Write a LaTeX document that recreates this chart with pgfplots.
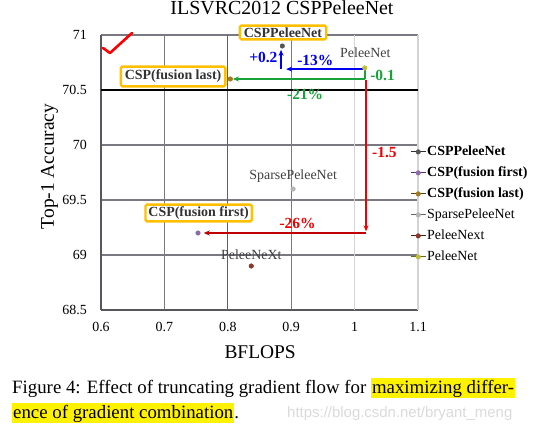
\documentclass[border=0pt]{standalone}
\usepackage{fontspec}
\setmainfont{Liberation Serif}
\newfontfamily\wmfont{Liberation Sans}
\usepackage{pgfplots}
\pgfplotsset{compat=1.18}
\usetikzlibrary{arrows.meta}
\definecolor{cCSP}{HTML}{555555}
\definecolor{cFirst}{HTML}{8E6BAE}
\definecolor{cLast}{HTML}{A07A1C}
\definecolor{cSparse}{HTML}{B5B5B5}
\definecolor{cNext}{HTML}{8B3626}
\definecolor{cPelee}{HTML}{BDBD3A}
\definecolor{cBox}{HTML}{FFC000}
\definecolor{cBlue}{HTML}{0000F0}
\definecolor{cGreen}{HTML}{17A33A}
\definecolor{cRed}{HTML}{F00000}
\definecolor{cDRed}{HTML}{C00000}
\definecolor{cGrid}{RGB}{122,120,128}
\definecolor{cGridD}{RGB}{96,94,102}
\definecolor{cGridL}{RGB}{212,212,212}
\definecolor{cAxis}{RGB}{88,86,94}
\newcommand\hl[1]{{\setlength{\fboxsep}{1bp}\colorbox{yellow}{\rule[-4bp]{0pt}{18.5bp}#1}}}
\begin{document}
\begin{tikzpicture}[x=1bp,y=1bp]
\fill[white] (0,0) rectangle (560,426);
\path[use as bounding box] (0,0) rectangle (560,426);
\begin{axis}[
  at={(101bp,116bp)}, anchor=south west,
  scale only axis, width=317bp, height=275bp,
  xmin=0.6, xmax=1.1, ymin=68.5, ymax=71,
  xtick={0.6,0.7,0.8,0.9,1,1.1},
  ytick={68.5,69,69.5,70,70.5,71},
  axis x line*=bottom, axis y line*=left,
  axis line style={draw=cAxis, line width=1.5bp, -},
  xmajorgrids=true, ymajorgrids=true,
  major grid style={draw=cGrid, line width=1.1bp},
  major tick length=0pt,
  clip=false,
  /pgf/number format/assume math mode=true,
  tick label style={font=\fontsize{14}{16}\selectfont},
  xticklabel style={inner sep=0pt, anchor=north, yshift=-12bp},
  yticklabel style={inner sep=0pt, anchor=east, xshift=-14bp},
  title={ILSVRC2012 CSPPeleeNet},
  title style={at={(axis description cs:0.571,1.076)}, anchor=center, inner sep=0pt, font=\fontsize{20}{24}\selectfont},
  xlabel={BFLOPS},
  xlabel style={at={(axis description cs:0.502,-0.153)}, anchor=center, inner sep=0pt, font=\fontsize{19.5}{22}\selectfont},
  ylabel={Top-1 Accuracy},
  ylabel style={at={(axis description cs:-0.162,0.522)}, anchor=center, inner sep=0pt, font=\fontsize{19.5}{22}\selectfont},
  legend style={at={(axis description cs:0.975,0.384)}, anchor=west, draw=none, fill=none,
    font=\fontsize{14}{16}\selectfont, inner sep=0pt,
    nodes={inner sep=1bp, text height=10bp, text depth=3bp},
    row sep=6bp, cells={anchor=west}},
  legend image code/.code={%
    \draw[#1, draw=.!55!black, line width=0.9bp] (0bp,0bp) -- (15bp,0bp);
    \draw[#1] plot coordinates {(7.5bp,0bp)};},
]
% grid overrides
\draw[draw=cGridD, line width=1.1bp] (axis cs:0.8,68.5) -- (axis cs:0.8,71);
\draw[draw=cGridL, line width=1.1bp] (axis cs:1,68.5) -- (axis cs:1,71);
\draw[draw=cGridL, line width=1.1bp] (axis cs:1.1,68.5) -- (axis cs:1.1,71);
\draw[black, line width=1.2bp] (axis cs:0.6,70.5) -- (axis cs:1.1,70.5);
% arrows
\draw[cBlue, line width=1.8bp, -{Stealth[length=6bp,width=5bp]}] (axis cs:1.015,70.69) -- (axis cs:0.892,70.69);
\draw[cBlue, line width=1.8bp, -{Stealth[length=6bp,width=5bp]}] (axis cs:0.884,70.69) -- (axis cs:0.884,70.865);
\draw[cGreen, line width=1.8bp] (axis cs:1.016,70.69) -- (axis cs:1.016,70.6);
\draw[cGreen, line width=1.8bp, -{Stealth[length=6bp,width=5bp]}] (axis cs:1.016,70.6) -- (axis cs:0.808,70.6);
\draw[cRed, line width=1.8bp, -{Stealth[length=6bp,width=5bp]}] (axis cs:1.018,70.59) -- (axis cs:1.018,69.215);
\draw[cDRed, line width=1.8bp, -{Stealth[length=6bp,width=5bp]}] (axis cs:1.018,69.2) -- (axis cs:0.762,69.2);
% data points
\addplot[only marks, mark=*, mark size=2.3bp, color=cCSP] coordinates {(0.886,70.9)};
\addlegendentry{\textbf{CSPPeleeNet}}
\addplot[only marks, mark=*, mark size=2.3bp, color=cFirst] coordinates {(0.753,69.2)};
\addlegendentry{\textbf{CSP(fusion first)}}
\addplot[only marks, mark=*, mark size=2.3bp, color=cLast] coordinates {(0.804,70.6)};
\addlegendentry{\textbf{CSP(fusion last)}}
\addplot[only marks, mark=*, mark size=2.3bp, color=cSparse] coordinates {(0.903,69.6)};
\addlegendentry{SparsePeleeNet}
\addplot[only marks, mark=*, mark size=2.3bp, color=cNext] coordinates {(0.837,68.9)};
\addlegendentry{PeleeNext}
\addplot[only marks, mark=*, mark size=2.3bp, color=cPelee] coordinates {(1.016,70.7)};
\addlegendentry{PeleeNet}
% annotation labels
\node[text=cBlue, font=\bfseries\fontsize{15.5}{18}\selectfont] at (axis cs:0.856,70.80) {+0.2};
\node[text=cBlue, font=\bfseries\fontsize{15.5}{18}\selectfont] at (axis cs:0.938,70.77) {-13\%};
\node[text=black!75, font=\fontsize{14}{16}\selectfont] at (axis cs:1.017,70.836) {PeleeNet};
\node[text=cGreen, font=\bfseries\fontsize{15.5}{18}\selectfont] at (axis cs:1.044,70.636) {-0.1};
\node[text=cGreen, font=\bfseries\fontsize{15.5}{18}\selectfont] at (axis cs:0.922,70.455) {-21\%};
\node[text=cRed, font=\bfseries\fontsize{15.5}{18}\selectfont] at (axis cs:1.047,69.93) {-1.5};
\node[text=cRed, font=\bfseries\fontsize{15.5}{18}\selectfont] at (axis cs:0.910,69.29) {-26\%};
\node[text=black!75, font=\fontsize{14}{16}\selectfont] at (axis cs:0.903,69.72) {SparsePeleeNet};
\node[text=black!75, font=\fontsize{14}{16}\selectfont] at (axis cs:0.837,69.0) {PeleeNeXt};
% boxed names
\node[draw=cBox, fill=white, line width=2.4bp, rounded corners=1.5bp, inner xsep=4bp, inner ysep=2bp, text=black!80, font=\bfseries\fontsize{14}{16}\selectfont] at (axis cs:0.887,71.023) {CSPPeleeNet};
\node[draw=cBox, fill=white, line width=2.4bp, rounded corners=1.5bp, inner xsep=4bp, inner ysep=3.5bp, text=black!80, font=\bfseries\fontsize{14}{16}\selectfont] at (axis cs:0.7137,70.623) {CSP(fusion last)};
\node[draw=cBox, fill=white, line width=2.4bp, rounded corners=1.5bp, inner xsep=3bp, inner ysep=2bp, text=black!80, font=\bfseries\fontsize{14}{16}\selectfont] at (axis cs:0.754,69.382) {CSP(fusion first)};
\end{axis}
% checkmark
\draw[red, line width=2.6bp, line cap=round, line join=round] (103,378) -- (110,373) -- (132,393);
% caption
\node[anchor=base west, inner sep=0pt, font=\fontsize{18.9}{22}\selectfont] at (12,33) {Figure 4: Effect of truncating gradient flow for \hl{maximizing differ-}};
\node[anchor=base west, inner sep=0pt, font=\fontsize{18.9}{22}\selectfont] at (12,8) {\hl{ence of gradient combination}.};
\node[anchor=base west, inner sep=0pt, font=\wmfont\fontsize{15}{18}\selectfont, text=gray!28] at (287,9) {https://blog.csdn.net/bryant\_meng};
\end{tikzpicture}
\end{document}
